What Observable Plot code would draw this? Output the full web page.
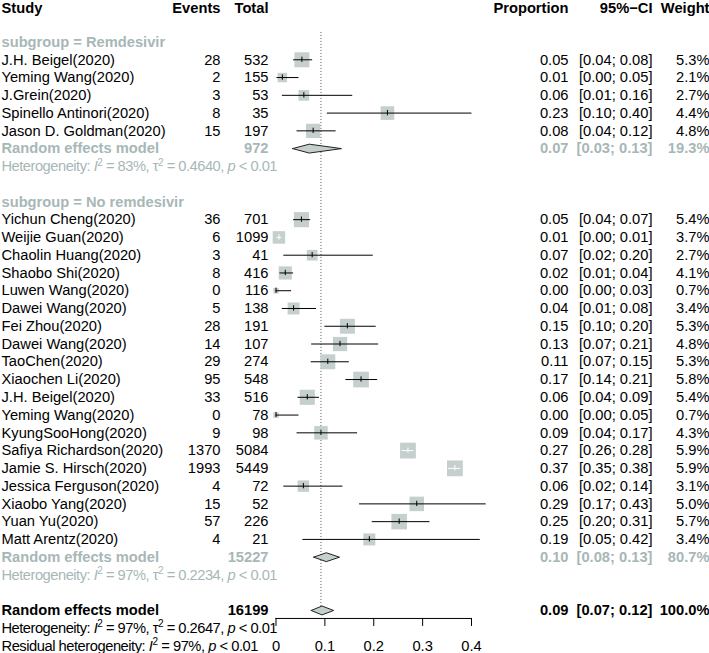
<!DOCTYPE html>
<html><head><meta charset="utf-8">
<script src="https://cdn.jsdelivr.net/npm/d3@7"></script>
<script src="https://cdn.jsdelivr.net/npm/@observablehq/plot@0.6"></script>
<style>body{margin:0;background:#fff}</style>
</head><body><div id="chart"></div>
<script>
// ---- Subgroup: Remdesivir ----
const studyA = ["J.H. Beigel(2020)", "Yeming Wang(2020)", "J.Grein(2020)", "Spinello Antinori(2020)", "Jason D. Goldman(2020)"];
const eventsA = [28, 2, 3, 8, 15];
const totalA = [532, 155, 53, 35, 197];
const estA = [0.053, 0.013, 0.057, 0.228, 0.076];
const loA = [0.036, 0.002, 0.013, 0.105, 0.043];
const hiA = [0.075, 0.047, 0.157, 0.401, 0.123];
const propA = ["0.05", "0.01", "0.06", "0.23", "0.08"];
const ciA = ["[0.04; 0.08]", "[0.00; 0.05]", "[0.01; 0.16]", "[0.10; 0.40]", "[0.04; 0.12]"];
const weightA = [5.3, 2.1, 2.7, 4.4, 4.8];

// ---- Subgroup: No remdesivir ----
const studyB = ["Yichun Cheng(2020)", "Weijie Guan(2020)", "Chaolin Huang(2020)", "Shaobo Shi(2020)", "Luwen Wang(2020)", "Dawei Wang(2020)", "Fei Zhou(2020)", "Dawei Wang(2020)", "TaoChen(2020)", "Xiaochen Li(2020)", "J.H. Beigel(2020)", "Yeming Wang(2020)", "KyungSooHong(2020)", "Safiya Richardson(2020)", "Jamie S. Hirsch(2020)", "Jessica Ferguson(2020)", "Xiaobo Yang(2020)", "Yuan Yu(2020)", "Matt Arentz(2020)"];
const eventsB = [36, 6, 3, 8, 0, 5, 28, 14, 29, 95, 33, 0, 9, 1370, 1993, 4, 15, 57, 4];
const totalB = [701, 1099, 41, 416, 116, 138, 191, 107, 274, 548, 516, 78, 98, 5084, 5449, 72, 52, 226, 21];
const estB = [0.052, 0.006, 0.074, 0.019, 0.0, 0.036, 0.146, 0.131, 0.106, 0.174, 0.064, 0.0, 0.092, 0.270, 0.366, 0.056, 0.288, 0.252, 0.191];
const loB = [0.036, 0.002, 0.016, 0.008, 0.0, 0.013, 0.100, 0.073, 0.072, 0.143, 0.045, 0.0, 0.043, 0.258, 0.353, 0.016, 0.171, 0.197, 0.055];
const hiB = [0.071, 0.012, 0.199, 0.036, 0.032, 0.083, 0.205, 0.210, 0.150, 0.208, 0.089, 0.047, 0.167, 0.282, 0.378, 0.137, 0.430, 0.315, 0.418];
const propB = ["0.05", "0.01", "0.07", "0.02", "0.00", "0.04", "0.15", "0.13", "0.11", "0.17", "0.06", "0.00", "0.09", "0.27", "0.37", "0.06", "0.29", "0.25", "0.19"];
const ciB = ["[0.04; 0.07]", "[0.00; 0.01]", "[0.02; 0.20]", "[0.01; 0.04]", "[0.00; 0.03]", "[0.01; 0.08]", "[0.10; 0.20]", "[0.07; 0.21]", "[0.07; 0.15]", "[0.14; 0.21]", "[0.04; 0.09]", "[0.00; 0.05]", "[0.04; 0.17]", "[0.26; 0.28]", "[0.35; 0.38]", "[0.02; 0.14]", "[0.17; 0.43]", "[0.20; 0.31]", "[0.05; 0.42]"];
const weightB = [5.4, 3.7, 2.7, 4.1, 0.7, 3.4, 5.3, 4.8, 5.3, 5.8, 5.4, 0.7, 4.3, 5.9, 5.9, 3.1, 5.0, 5.7, 3.4];

// ---- Summaries (random effects) ----
const sumLabels = ["Random effects model", "Random effects model", "Random effects model"];
const sumTotals = ["972", "15227", "16199"];
const sumEst = [0.068, 0.103, 0.094];
const sumLo = [0.034, 0.077, 0.072];
const sumHi = [0.134, 0.130, 0.118];
const sumProp = ["0.07", "0.10", "0.09"];
const sumCI = ["[0.03; 0.13]", "[0.08; 0.13]", "[0.07; 0.12]"];
const sumWeight = ["19.3%", "80.7%", "100.0%"];

const hetTexts = [
  "Heterogeneity: I² = 83%, τ² = 0.4640, p < 0.01",
  "Heterogeneity: I² = 97%, τ² = 0.2234, p < 0.01",
  "Heterogeneity: I² = 97%, τ² = 0.2647, p < 0.01",
  "Residual heterogeneity: I² = 97%, p < 0.01"
];
const subgroupLabels = ["subgroup = Remdesivir", "subgroup = No remdesivir"];
const headers = ["Study", "Events", "Total", "Proportion", "95%−CI", "Weight"];
const xTicks = [0, 0.1, 0.2, 0.3, 0.4];
const refValue = 0.092;

// ---- colours / layout ----
const GRAY = "#a7b7b7";
const SQ = "#c5cfce";
const FONT = "Liberation Sans, Arial, Helvetica, sans-serif";
const FS = 14.7;
const PX_PER_UNIT = 489;

// ---- build rows ----
const rows = [];
studyA.forEach((s, i) => rows.push({row: 3 + i, study: s, events: eventsA[i], total: totalA[i], est: estA[i], lo: loA[i], hi: hiA[i], prop: propA[i], ci: ciA[i], w: weightA[i]}));
studyB.forEach((s, i) => rows.push({row: 12 + i, study: s, events: eventsB[i], total: totalB[i], est: estB[i], lo: loB[i], hi: hiB[i], prop: propB[i], ci: ciB[i], w: weightB[i]}));
rows.forEach(d => {
  const half = 1.772 * 3.67 * Math.sqrt(d.w) / 2;
  d.inside = (d.est - d.lo) * PX_PER_UNIT <= half && (d.hi - d.est) * PX_PER_UNIT <= half;
  d.wl = d.w.toFixed(1) + "%";
});
const sumRows = [8, 31, 34];
const sums = sumLabels.map((l, i) => ({row: sumRows[i], label: l, total: sumTotals[i], est: sumEst[i], lo: sumLo[i], hi: sumHi[i], prop: sumProp[i], ci: sumCI[i], wl: sumWeight[i], color: i < 2 ? GRAY : "black"}));
const hets = hetTexts.map((t, i) => ({row: [9, 32, 35, 36][i], text: t, color: i < 2 ? GRAY : "black"}));
const subs = subgroupLabels.map((t, i) => ({row: [2, 11][i], text: t}));
const head = [{row: 0}];

const colL = 1, colEv = 220, colTot = 268, colProp = 568, colCI = 652, colW = 709;

function txt(data, opts) {
  return Plot.text(data, Object.assign({frameAnchor: "left", y: "row", fontSize: FS, fontFamily: FONT}, opts));
}

const diamonds = sums.map(s => {
  const h = 0.25;
  const pts = [{x: s.lo, y: s.row}, {x: s.est, y: s.row - h}, {x: s.hi, y: s.row}, {x: s.est, y: s.row + h}, {x: s.lo, y: s.row}];
  return Plot.line(pts, {x: "x", y: "y", fill: SQ, stroke: "#222", strokeWidth: 1});
});

const axisRow = 34.45;

const plot = Plot.plot({
  width: 709, height: 653,
  marginTop: 0, marginBottom: 0, marginLeft: 0, marginRight: 0,
  x: {domain: [0, 0.4], range: [275.5, 471], axis: null},
  y: {domain: [0, 36], range: [6, 645.5], axis: null},
  r: {type: "sqrt", domain: [0, 1], range: [0, 3.67]},
  style: {fontFamily: FONT, fontSize: FS + "px", background: "white", overflow: "visible"},
  marks: [
    Plot.ruleX([refValue], {x: d => d, y1: 1.46, y2: 34.0, stroke: "#555", strokeDasharray: "1,2", strokeWidth: 1}),
    Plot.dot(rows, {x: "est", y: "row", r: "w", symbol: "square", fill: SQ, stroke: "none"}),
    Plot.ruleY(rows, {y: "row", x1: "lo", x2: "hi", stroke: d => d.inside ? "white" : "black", strokeWidth: 1}),
    Plot.ruleX(rows, {x: "est", y1: d => d.row - 0.15, y2: d => d.row + 0.15, stroke: d => d.inside ? "white" : "black", strokeWidth: 1}),
    ...diamonds,
    // axis
    Plot.ruleY([axisRow], {y: d => d, x1: 0, x2: 0.4, stroke: "black"}),
    Plot.ruleX(xTicks, {x: d => d, y1: axisRow, y2: axisRow + 0.45, stroke: "black"}),
    Plot.text(xTicks, {x: d => d, y: 36, text: d => String(d), fontSize: FS, fontFamily: FONT}),
    // header
    txt(head, {text: () => headers[0], dx: colL, dy: 1.5, textAnchor: "start", fontWeight: "bold"}),
    txt(head, {text: () => headers[1], dx: colEv, dy: 1.5, textAnchor: "end", fontWeight: "bold"}),
    txt(head, {text: () => headers[2], dx: colTot, dy: 1.5, textAnchor: "end", fontWeight: "bold"}),
    txt(head, {text: () => headers[3], dx: colProp, dy: 1.5, textAnchor: "end", fontWeight: "bold"}),
    txt(head, {text: () => headers[4], dx: colCI, dy: 1.5, textAnchor: "end", fontWeight: "bold"}),
    txt(head, {text: () => headers[5], dx: colW, dy: 1.5, textAnchor: "end", fontWeight: "bold"}),
    txt(subs, {text: "text", dx: colL, textAnchor: "start", fontWeight: "bold", fill: GRAY}),
    txt(rows, {text: "study", dx: colL, textAnchor: "start"}),
    txt(rows, {text: d => String(d.events), dx: colEv, textAnchor: "end"}),
    txt(rows, {text: d => String(d.total), dx: colTot, textAnchor: "end"}),
    txt(rows, {text: "prop", dx: colProp, textAnchor: "end"}),
    txt(rows, {text: "ci", dx: colCI, textAnchor: "end"}),
    txt(rows, {text: "wl", dx: colW, textAnchor: "end"}),
    txt(sums, {text: "label", dx: colL, textAnchor: "start", fontWeight: "bold", fill: "color"}),
    txt(sums, {text: "total", dx: colTot, textAnchor: "end", fontWeight: "bold", fill: "color"}),
    txt(sums, {text: "prop", dx: colProp, textAnchor: "end", fontWeight: "bold", fill: "color"}),
    txt(sums, {text: "ci", dx: colCI, textAnchor: "end", fontWeight: "bold", fill: "color"}),
    txt(sums, {text: "wl", dx: colW, textAnchor: "end", fontWeight: "bold", fill: "color"}),
    txt(hets, {text: "text", dx: colL, textAnchor: "start", fill: "color"})
  ]
});
document.getElementById("chart").appendChild(plot);

// rich text: italic I and p, superscript 2; plotmath-like tighter spacing
const NS = "http://www.w3.org/2000/svg";
d3.select(plot).selectAll("text").each(function() {
  const s = this.textContent;
  if (!/^(Heterogeneity|Residual)/.test(s)) return;
  while (this.firstChild) this.removeChild(this.firstChild);
  const parts = s.split(/(I²|τ²|\bp\b)/);
  let pending = 0;
  const add = (t, attrs) => {
    const ts = document.createElementNS(NS, "tspan");
    ts.textContent = t;
    for (const k in attrs) ts.setAttribute(k, attrs[k]);
    if (pending && !("dy" in attrs)) { ts.setAttribute("dy", pending); pending = 0; }
    this.appendChild(ts);
  };
  for (const p of parts) {
    if (!p) continue;
    if (p === "I²" || p === "τ²") {
      add(p[0], p === "I²" ? {"font-style": "italic"} : {});
      add("2", {dy: -5.5, "font-size": 10});
      pending = 5.5;
    } else if (p === "p") {
      add("p", {"font-style": "italic"});
    } else {
      add(p, {});
    }
  }
  const target = /^Residual/.test(s) ? 257 : 276;
  this.setAttribute("textLength", target);
  this.setAttribute("lengthAdjust", "spacing");
});
</script>
</body></html>
